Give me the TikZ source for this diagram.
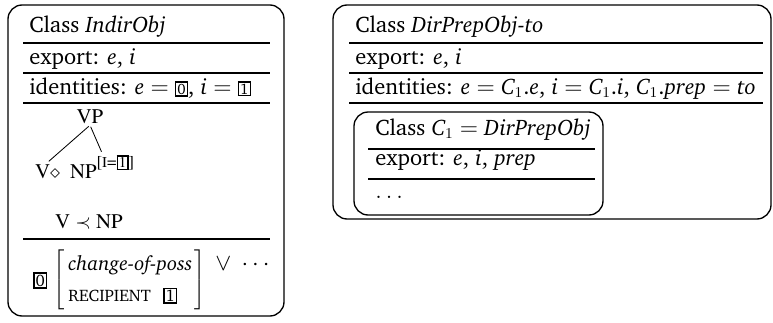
\documentclass[tikz,border=0pt]{standalone}
\IfFileExists{charter.sty}{%
  \usepackage[T1]{fontenc}\usepackage{charter}%
  \IfFileExists{t1ptm.fd}{\newcommand{\treefont}{\usefont{T1}{ptm}{m}{n}}}%
                         {\newcommand{\treefont}{\rmfamily}}}{%
  \usepackage{fontspec}\setmainfont{Liberation Serif}%
  \newfontfamily\treefont{Liberation Serif}}
\usetikzlibrary{positioning,calc}
\newcommand{\tagbox}[2][\small]{{\setlength{\fboxsep}{0.6pt}\setlength{\fboxrule}{0.8pt}\fbox{#1#2}}}
\newcommand{\fsc}[1]{{\fontsize{10}{11}\selectfont #1}}
\tikzset{
  %% class frames and their rules
  clsframe/.style={draw,line width=0.8pt,rounded corners=8.5pt},
  clsrule/.style={line width=1pt},
  clstext/.style={anchor=base west,inner sep=0pt,
                  font=\fontsize{13.5}{15}\selectfont},
  %% tree labels
  treelab/.style={inner sep=1pt,
                  font={\fontsize{12.5}{14}\treefont}},
  treeedge/.style={line width=0.5pt,shorten >=1pt,shorten <=1pt},
}
\begin{document}
\begin{tikzpicture}[x=0.6pt,y=-0.6pt]
  \useasboundingbox (0,0) rectangle (773,322);

  %% Class IndirObj
  \draw[clsframe] (8,5) rectangle (284,316);
  \foreach \y in {43,73,103,239}
    \draw[clsrule] (23,\y) -- (270,\y);
  \node[clstext] (iohead) at (29,33) {Class \textit{IndirObj}};
  \node[clstext] (ioexp)  at (29,64) {export: \textit{e}, \textit{i}};
  \node[clstext] (ioid)   at (29,94)
       {identities: \textit{e} $=$ \tagbox{0}, \textit{i} $=$ \tagbox{1}};
  \node[treelab,anchor=base] (vp) at (90,123) {VP};
  \node[treelab,anchor=base west] (v) at (33,178) {V$\diamond$};
  \node[treelab,anchor=base west] (np) at (68,178)
       {NP\raisebox{1.1ex}{\normalsize[{\small I}=\tagbox{1}]}};
  \draw[treeedge] (vp.south) -- (v.north);
  \draw[treeedge] (vp.south) -- (np.north);
  \node[treelab,anchor=base west] (prec) at (53,228) {V $\prec$ NP};
  \node[clstext,anchor=west] (avm) at (33,280)
       {\tagbox[\normalsize]{0}\hspace{4pt}%
        $\left[\renewcommand{\arraystretch}{1.22}\begin{array}{@{\hspace{2pt}}l@{\hspace{1pt}}}
          \hbox{\fontsize{12.2}{14}\selectfont\itshape change-of-poss}\\
          \hbox{\fsc{RECIPIENT}}\ \ \tagbox[\normalsize]{1}
        \end{array}\right]$};
  \node[clstext] (ioor) at (215,270) {$\vee\ \cdots$};

  %% Class DirPrepObj-to
  \draw[clsframe] (333,5) rectangle (771,219);
  \foreach \y in {43,73,103}
    \draw[clsrule] (349,\y) -- (763,\y);
  \node[clstext] (dphead) at (355,33) {Class \textit{DirPrepObj-to}};
  \node[clstext] (dpexp)  at (355,64) {export: \textit{e}, \textit{i}};
  \node[clstext] (dpid)   at (355,94)
       {identities: \textit{e} $=$ $\textit{C}_1$.\textit{e}, \textit{i} $=$
        $\textit{C}_1$.\textit{i}, $\textit{C}_1$.\textit{prep} $=$ \textit{to}};

  %% embedded class C1
  \draw[clsframe] (354,112) rectangle (603,215);
  \foreach \y in {149,179}
    \draw[clsrule] (368,\y) -- (595,\y);
  \node[clstext] (c1head) at (375,135)
       {Class $\textit{C}_1$ $=$ \textit{DirPrepObj}};
  \node[clstext] (c1exp)  at (375,165)
       {export: \textit{e}, \textit{i}, \textit{prep}};
  \node[clstext] (c1more) at (375,198) {$\ldots$};
\end{tikzpicture}
\end{document}
